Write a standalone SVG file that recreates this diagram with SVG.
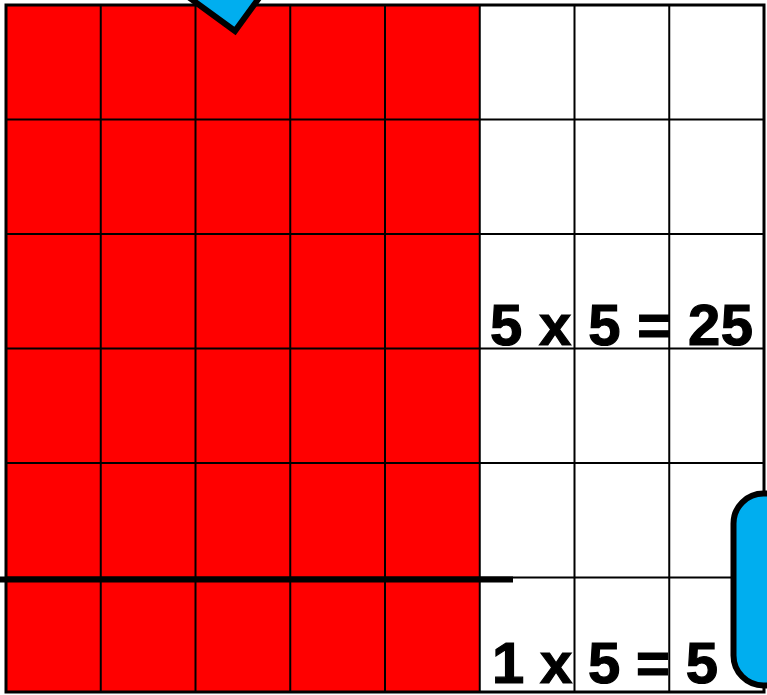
<svg xmlns="http://www.w3.org/2000/svg" width="767" height="695" viewBox="0 0 767 695">
<style>
.grid{stroke:#000;stroke-width:2;fill:none}
.blue{fill:#00AEEF;stroke:#000;stroke-width:6}
.eq{font-family:"Liberation Sans",Arial,sans-serif;font-weight:bold;font-size:58px;fill:#000;stroke:#000;stroke-width:1.2}
</style>
<rect x="0" y="0" width="767" height="695" fill="#fff"/>
<g id="red-area">
<rect x="6" y="5" width="473.75" height="687" fill="#FF0000"/>
</g>
<g id="grid" class="grid">
<path d="M6 5V692M100.75 5V692M195.5 5V692M290.25 5V692M385 5V692M479.75 5V692M574.5 5V692M669.25 5V692M764 5V692"/>
<path d="M6 5H764M6 119.5H764M6 234H764M6 348.5H764M6 463H764M6 577.5H764M6 692H764"/>
<rect x="6" y="5" width="758" height="687" stroke-width="3"/>
</g>
<g id="connectors">
<line x1="0" y1="579.5" x2="513" y2="579.5" stroke="#000" stroke-width="6"/>
</g>
<g id="top-marker">
<polygon class="blue" points="235,31 150,-31 209,-112 294,-50"/>
</g>
<g id="side-bracket">
<rect class="blue" x="733.5" y="493.5" width="90" height="192" rx="30" ry="30"/>
</g>
<g id="label-5x5">
<text class="eq" x="490" y="345" textLength="263" lengthAdjust="spacing">5 x 5 = 25</text>
</g>
<g id="label-1x5">
<text class="eq" x="492" y="683" textLength="226" lengthAdjust="spacing">1 x 5 = 5</text>
</g>
</svg>
